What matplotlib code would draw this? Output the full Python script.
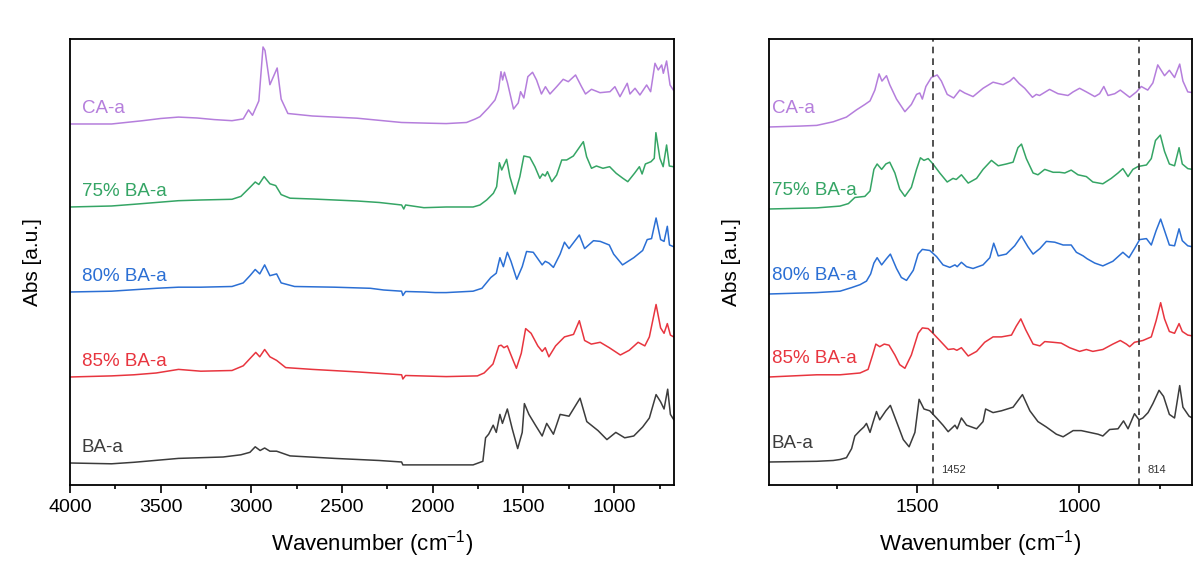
# FTIR spectra of BA-a, CA-a and their blends: full range and fingerprint region

import matplotlib.pyplot as plt
from matplotlib.ticker import MultipleLocator

plt.rcParams['font.family'] = ['Liberation Sans', 'DejaVu Sans']
plt.rcParams['mathtext.fontset'] = 'custom'
plt.rcParams['mathtext.rm'] = 'Liberation Sans'
plt.rcParams['mathtext.default'] = 'regular'

labels = ['CA-a', '75% BA-a', '80% BA-a', '85% BA-a', 'BA-a']
colors = ['#b57edc', '#35a565', '#2b6fd4', '#e8353f', '#3c3c3c']

# ---- full range, 4000-670 cm-1 (absorbance in a.u., each relative to its own baseline)
wn_ca = [4000, 3771, 3599, 3500, 3402, 3300, 3205, 3107, 3045, 3016, 2994, 2959, 2936, 2925,
         2898, 2885, 2858, 2836, 2799, 2664, 2418, 2172, 2024, 1926, 1814, 1766, 1740, 1694,
         1657, 1638, 1624, 1615, 1605, 1588, 1555, 1529, 1516, 1498, 1476, 1450, 1428, 1401,
         1379, 1354, 1317, 1281, 1253, 1213, 1180, 1158, 1125, 1078, 1023, 996, 968, 928, 913,
         885, 858, 821, 799, 775, 757, 738, 729, 711, 692, 674]
abs_ca = [0, 0, 3.3, 5.5, 6.9, 6, 4.4, 3.3, 5.1, 14.1, 8.7, 23.1, 77, 73.5,
          39.3, 44.7, 56, 24.9, 10.5, 8, 5.8, 1.5, 0.8, 0.4, 1.5, 5, 7.3, 16,
          24, 34, 52.3, 44, 51.7, 41, 15, 21, 32.3, 26, 47.3, 51.7, 44, 30,
          37.3, 30, 37.3, 44.7, 42.3, 49, 37.3, 30, 34.7, 31.3, 32.3, 37.3, 27.3, 40.7, 30,
          35.7, 29, 39, 32.3, 60.7, 54, 59, 50.7, 63, 39, 34]

wn_75 = [4000, 3771, 3648, 3525, 3402, 3279, 3107, 3058, 3008, 2979, 2959, 2930, 2898, 2866,
         2836, 2787, 2664, 2418, 2295, 2172, 2160, 2150, 2049, 1926, 1778, 1740, 1703, 1666,
         1648, 1633, 1620, 1593, 1575, 1547, 1520, 1498, 1465, 1437, 1410, 1395, 1380, 1368,
         1344, 1317, 1289, 1262, 1225, 1170, 1152, 1125, 1098, 1062, 1025, 989, 952, 925, 888,
         861, 846, 828, 797, 779, 770, 748, 730, 711, 696, 674]
abs_75 = [0, 1, 2.7, 4.5, 6.3, 7, 7.7, 10.6, 19.6, 25, 22.5, 30.4, 23.2, 21.4,
          12.4, 8.8, 8, 6, 4.5, 2, -2, 2, -0.7, 0, 0, 2, 7, 13.7,
          20.3, 44.3, 37, 47.7, 30.3, 13, 30.3, 51, 49.7, 40.3, 28.7, 33, 31, 35.3,
          25.3, 32, 47, 47, 51, 65.3, 50.3, 38.7, 41, 38.7, 40.3, 33.7, 28.7, 25.3, 33.7,
          40.3, 33, 43, 45.3, 48.7, 74.3, 48.7, 40.3, 62, 41, 40.3]

wn_80 = [4000, 3771, 3525, 3402, 3279, 3107, 3045, 3008, 2979, 2954, 2927, 2898, 2861, 2836,
         2762, 2541, 2344, 2271, 2172, 2165, 2150, 2049, 1987, 1926, 1778, 1729, 1680, 1650,
         1630, 1611, 1589, 1569, 1537, 1507, 1483, 1446, 1397, 1380, 1360, 1335, 1298, 1274,
         1249, 1192, 1163, 1114, 1077, 1027, 1003, 954, 892, 843, 818, 794, 769, 744, 725,
         707, 695, 671]
abs_80 = [0, 0.8, 3.7, 4.8, 4.8, 5.5, 9.1, 16.3, 22.5, 18.1, 27.1, 16.3, 18.1, 9.1,
          5.5, 4.8, 3.7, 2, 0.8, -3.5, 0.5, 0, -0.6, -0.6, 0.8, 3.7, 14.5, 18.8,
          34.3, 25.3, 39.7, 30.7, 12.7, 25.3, 40.5, 39.7, 27.1, 30.7, 28.9, 24.6, 37.9, 49.8,
          43.4, 57, 43.4, 51.3, 50.6, 47, 37.9, 27.1, 34.3, 41.5, 52.4, 53.4, 74, 52.4, 50.6,
          65.7, 47, 45.2]

wn_85 = [4000, 3771, 3648, 3525, 3402, 3279, 3107, 3045, 3008, 2976, 2954, 2927, 2898, 2861,
         2811, 2664, 2418, 2172, 2165, 2150, 1926, 1754, 1717, 1668, 1636, 1623, 1608, 1589,
         1557, 1539, 1512, 1488, 1458, 1421, 1397, 1380, 1360, 1323, 1274, 1224, 1192, 1163,
         1126, 1077, 1027, 966, 917, 868, 831, 806, 769, 744, 725, 707, 690, 671]
abs_85 = [0, 1.1, 2.2, 4, 7.6, 5.8, 6.5, 11.2, 18.4, 24.6, 20.2, 27.5, 20.2, 16.6,
          9.4, 7.6, 5.1, 2.2, -2, 1.5, 0.4, 1.1, 4, 13, 31.1, 31.8, 29.3, 31.1,
          16.6, 8.7, 23.8, 48.4, 43.7, 31.1, 25.6, 29.3, 20.2, 31.1, 40.1, 42.6, 56.3, 36.5,
          32.9, 34.7, 29.3, 22, 26.7, 34.7, 31.1, 40.1, 72.5, 49.1, 43.7, 53.4, 41.9, 40]

wn_ba = [4000, 3771, 3648, 3402, 3156, 3058, 3008, 2979, 2952, 2927, 2898, 2861, 2787, 2541,
         2295, 2172, 2165, 1926, 1778, 1724, 1709, 1692, 1667, 1650, 1630, 1616, 1589, 1562,
         1532, 1507, 1495, 1470, 1434, 1397, 1372, 1335, 1298, 1249, 1188, 1151, 1089, 1040,
         991, 942, 892, 843, 806, 769, 744, 725, 705, 690, 671]
abs_ba = [0, -0.8, 0.7, 4.6, 6, 8.2, 10.7, 16.2, 12.5, 15, 11.8, 11.8, 7.1, 4.6,
          2.5, 1, -1.9, -1.9, -1.9, 1.7, 25.2, 28.8, 37.8, 30.6, 48.6, 39.6, 54, 34.2,
          14.4, 30.6, 59.4, 48.6, 37.8, 27, 39.6, 28.8, 48.6, 46.8, 64.8, 41.4, 32.4, 23.4,
          30.6, 25.2, 27, 36, 45, 68.4, 61.2, 54, 73.8, 48.6, 43.2]

# ---- fingerprint region, 1960-650 cm-1
fp_wn_ca = [1960, 1864, 1812, 1761, 1720, 1689, 1663, 1647, 1632, 1619, 1610, 1596, 1586, 1565,
            1539, 1519, 1503, 1493, 1485, 1474, 1457, 1439, 1426, 1408, 1388, 1369, 1354, 1328,
            1297, 1266, 1235, 1214, 1202, 1185, 1168, 1144, 1132, 1122, 1091, 1065, 1034, 1018,
            998, 977, 951, 936, 923, 910, 889, 872, 843, 822, 807, 787, 771, 756, 735, 720, 704,
            688, 678, 663, 649]
fp_abs_ca = [0, 0.9, 1.6, 5.2, 9.9, 17.1, 22.5, 26.1, 36.9, 53.1, 45.9, 51.3, 42.3, 27.9,
             15.3, 22.5, 32.6, 34, 27.9, 40.5, 49.5, 52, 45.9, 32.6, 29, 36.9, 34, 30.4,
             38.7, 44.8, 42.3, 45.9, 49.5, 43.4, 38.7, 29.7, 32.6, 31.5, 37.6, 33.3, 31.5, 35.1,
             38.7, 35.1, 30.4, 33.3, 40.5, 31.5, 33.3, 36.9, 29.7, 35.1, 40.5, 36.9, 44.1, 62.1,
             51.3, 56.7, 49.5, 62.9, 45.9, 35.1, 34.4]

fp_wn_75 = [1960, 1812, 1740, 1714, 1694, 1663, 1647, 1635, 1625, 1611, 1598, 1586, 1570, 1555,
            1539, 1519, 1503, 1491, 1480, 1467, 1452, 1431, 1408, 1390, 1380, 1364, 1343, 1317,
            1297, 1271, 1250, 1225, 1204, 1189, 1178, 1163, 1142, 1127, 1106, 1080, 1060, 1044,
            1024, 1003, 977, 957, 926, 900, 879, 864, 848, 833, 817, 791, 776, 763, 748, 735,
            720, 704, 690, 680, 663, 649]
fp_abs_75 = [0, 1.1, 2.9, 5.4, 11.5, 12.6, 18, 39.6, 45, 39.6, 45, 46.8, 36, 19.8,
             12.6, 21.6, 39.6, 51.2, 48.6, 50.4, 45, 36, 27, 30.6, 29.5, 34.2, 25.9, 30.6,
             39.6, 48.6, 43.2, 45, 46.8, 61.3, 64.9, 50.4, 36, 34.2, 39.6, 36.7, 36.7, 36,
             38.9, 34.2, 32.4, 27, 25.2, 30.6, 36, 40.4, 32.4, 39.6, 42.5, 44, 50.4, 68.5, 73.9,
             57.6, 45, 43.2, 61.3, 45, 40.4, 39.6]

fp_wn_80 = [1960, 1812, 1740, 1704, 1678, 1658, 1645, 1635, 1625, 1611, 1596, 1584, 1565, 1550,
            1534, 1513, 1498, 1485, 1462, 1441, 1421, 1400, 1384, 1377, 1364, 1348, 1328, 1297,
            1276, 1264, 1250, 1225, 1199, 1178, 1158, 1142, 1121, 1101, 1075, 1049, 1024, 1008,
            987, 975, 951, 926, 895, 864, 845, 828, 812, 791, 776, 761, 747, 735, 720, 704,
            690, 680, 663, 649]
fp_abs_80 = [0, 1.4, 2.8, 6.4, 9.3, 12.9, 20.1, 30.9, 36.3, 29.1, 35.3, 39.9, 25.5, 16.5,
             13.6, 23.7, 39.9, 44.6, 43.5, 37.4, 29.1, 26.6, 29.1, 27.3, 31.7, 27.3, 25.5, 29.1,
             36.3, 50.8, 38.1, 39.9, 48.2, 58, 47.2, 39.9, 45.4, 52.6, 51.8, 49, 49, 41.7,
             38.1, 35.3, 30.9, 28.1, 32.7, 41.7, 36.3, 45.4, 54.4, 55.4, 49, 63.4, 74.9, 63.4,
             49, 48.2, 65.2, 53.3, 48.2, 47.2]

fp_wn_85 = [1960, 1812, 1740, 1678, 1653, 1639, 1629, 1617, 1603, 1588, 1570, 1555, 1539, 1519,
            1498, 1485, 1467, 1452, 1431, 1405, 1388, 1378, 1364, 1343, 1317, 1292, 1266, 1240,
            1209, 1194, 1180, 1165, 1142, 1121, 1106, 1080, 1055, 1029, 998, 977, 957, 926, 895,
            872, 853, 843, 828, 802, 776, 761, 747, 735, 720, 704, 690, 680, 663, 649]
fp_abs_85 = [0, 2.2, 2.2, 4, 7.6, 22, 32.9, 30.3, 32.9, 31.8, 22, 12.3, 8.7, 22,
             43.7, 49.1, 48.4, 43.7, 36.5, 27.5, 28.2, 26.7, 29.3, 21, 25.6, 34.7, 40.1, 40.1,
             41.9, 50.9, 58.1, 47.3, 32.9, 31.1, 35.4, 34.7, 33.9, 29.3, 25.6, 27.5, 25.6, 27.5,
             32.9, 36.5, 32.9, 30.3, 34.7, 36.5, 40.1, 56.3, 74.3, 58.1, 45.5, 43.7, 53.4, 45.5,
             41.9, 41.1]

fp_wn_ba = [1960, 1812, 1761, 1740, 1720, 1704, 1694, 1678, 1666, 1658, 1647, 1637, 1627, 1617,
            1598, 1584, 1565, 1544, 1526, 1508, 1495, 1480, 1462, 1441, 1421, 1405, 1384, 1377,
            1364, 1348, 1317, 1297, 1289, 1266, 1240, 1204, 1175, 1152, 1127, 1101, 1070, 1049,
            1018, 993, 967, 941, 926, 905, 879, 862, 848, 828, 814, 802, 786, 771, 752, 738,
            720, 704, 688, 678, 659, 649]
fp_abs_ba = [0, 0.7, 1.5, 2.5, 4.3, 13.4, 26, 31.4, 35, 38.6, 29.6, 40.4, 50.5, 42.2,
             51.2, 56.6, 40.4, 22.4, 15.2, 29.6, 62.7, 53, 51.2, 44, 36.8, 30.3, 36.8, 33.2,
             44, 36.8, 33.2, 40.4, 53, 49.4, 51.2, 54.8, 67.4, 51.2, 40.4, 35, 27.8, 25.2,
             31.4, 31.4, 29.6, 27.8, 26, 32.5, 33.2, 41.1, 33.2, 48.3, 42.2, 44, 49.4, 58.4,
             71.7, 65.6, 47.6, 44, 76.4, 54.8, 45.8, 44]

# stacking offsets for each panel
offsets_full = [361, 278, 193, 108, 22]
offsets_fp = [358, 276, 191, 108, 23]

# marked bands in the fingerprint panel
bands = [1452, 814]

full = [(wn_ca, abs_ca), (wn_75, abs_75), (wn_80, abs_80), (wn_85, abs_85), (wn_ba, abs_ba)]
fp = [(fp_wn_ca, fp_abs_ca), (fp_wn_75, fp_abs_75), (fp_wn_80, fp_abs_80),
      (fp_wn_85, fp_abs_85), (fp_wn_ba, fp_abs_ba)]

fig = plt.figure(figsize=(11.97, 5.65), dpi=100)
ax1 = fig.add_axes([0.0585, 0.1416, 0.5046, 0.7894])
ax2 = fig.add_axes([0.6424, 0.1416, 0.3534, 0.7894])


def stack(ax, spectra, offsets, label_x, label_dy):
    for (wn, a), off, lab, c in zip(spectra, offsets, labels, colors):
        ax.plot(wn, [off + v for v in a], color=c, lw=1.1, solid_joinstyle='round')
        ax.text(label_x, off + label_dy, lab, color=c, fontsize=13.5,
                ha='left', va='center')


stack(ax1, full, offsets_full, 3935, 15)
stack(ax2, fp, offsets_fp, 1952, 18)

for b in bands:
    ax2.axvline(b, color='#333333', lw=1.2, ls=(0, (4, 3)))
    ax2.annotate(str(b), (b, 15), xytext=(6, 0), textcoords='offset points',
                 fontsize=8, color='#333333', ha='left', va='center')

ax1.set_xlim(4000, 670)
ax2.set_xlim(1960, 650)

for ax in (ax1, ax2):
    ax.set_ylim(0, 446)
    ax.set_yticks([])
    ax.xaxis.set_major_locator(MultipleLocator(500))
    ax.xaxis.set_minor_locator(MultipleLocator(250))
    ax.tick_params(axis='x', which='major', direction='out', length=6, width=1.2,
                   labelsize=14, pad=4)
    ax.tick_params(axis='x', which='minor', direction='out', length=3, width=1.2)
    for s in ax.spines.values():
        s.set_linewidth(1.3)
    ax.set_xlabel('Wavenumber (cm$^{-1}$)', fontsize=16, labelpad=9)
    ax.set_ylabel('Abs [a.u.]', fontsize=15, labelpad=20)

plt.savefig('out.png', dpi=100)
